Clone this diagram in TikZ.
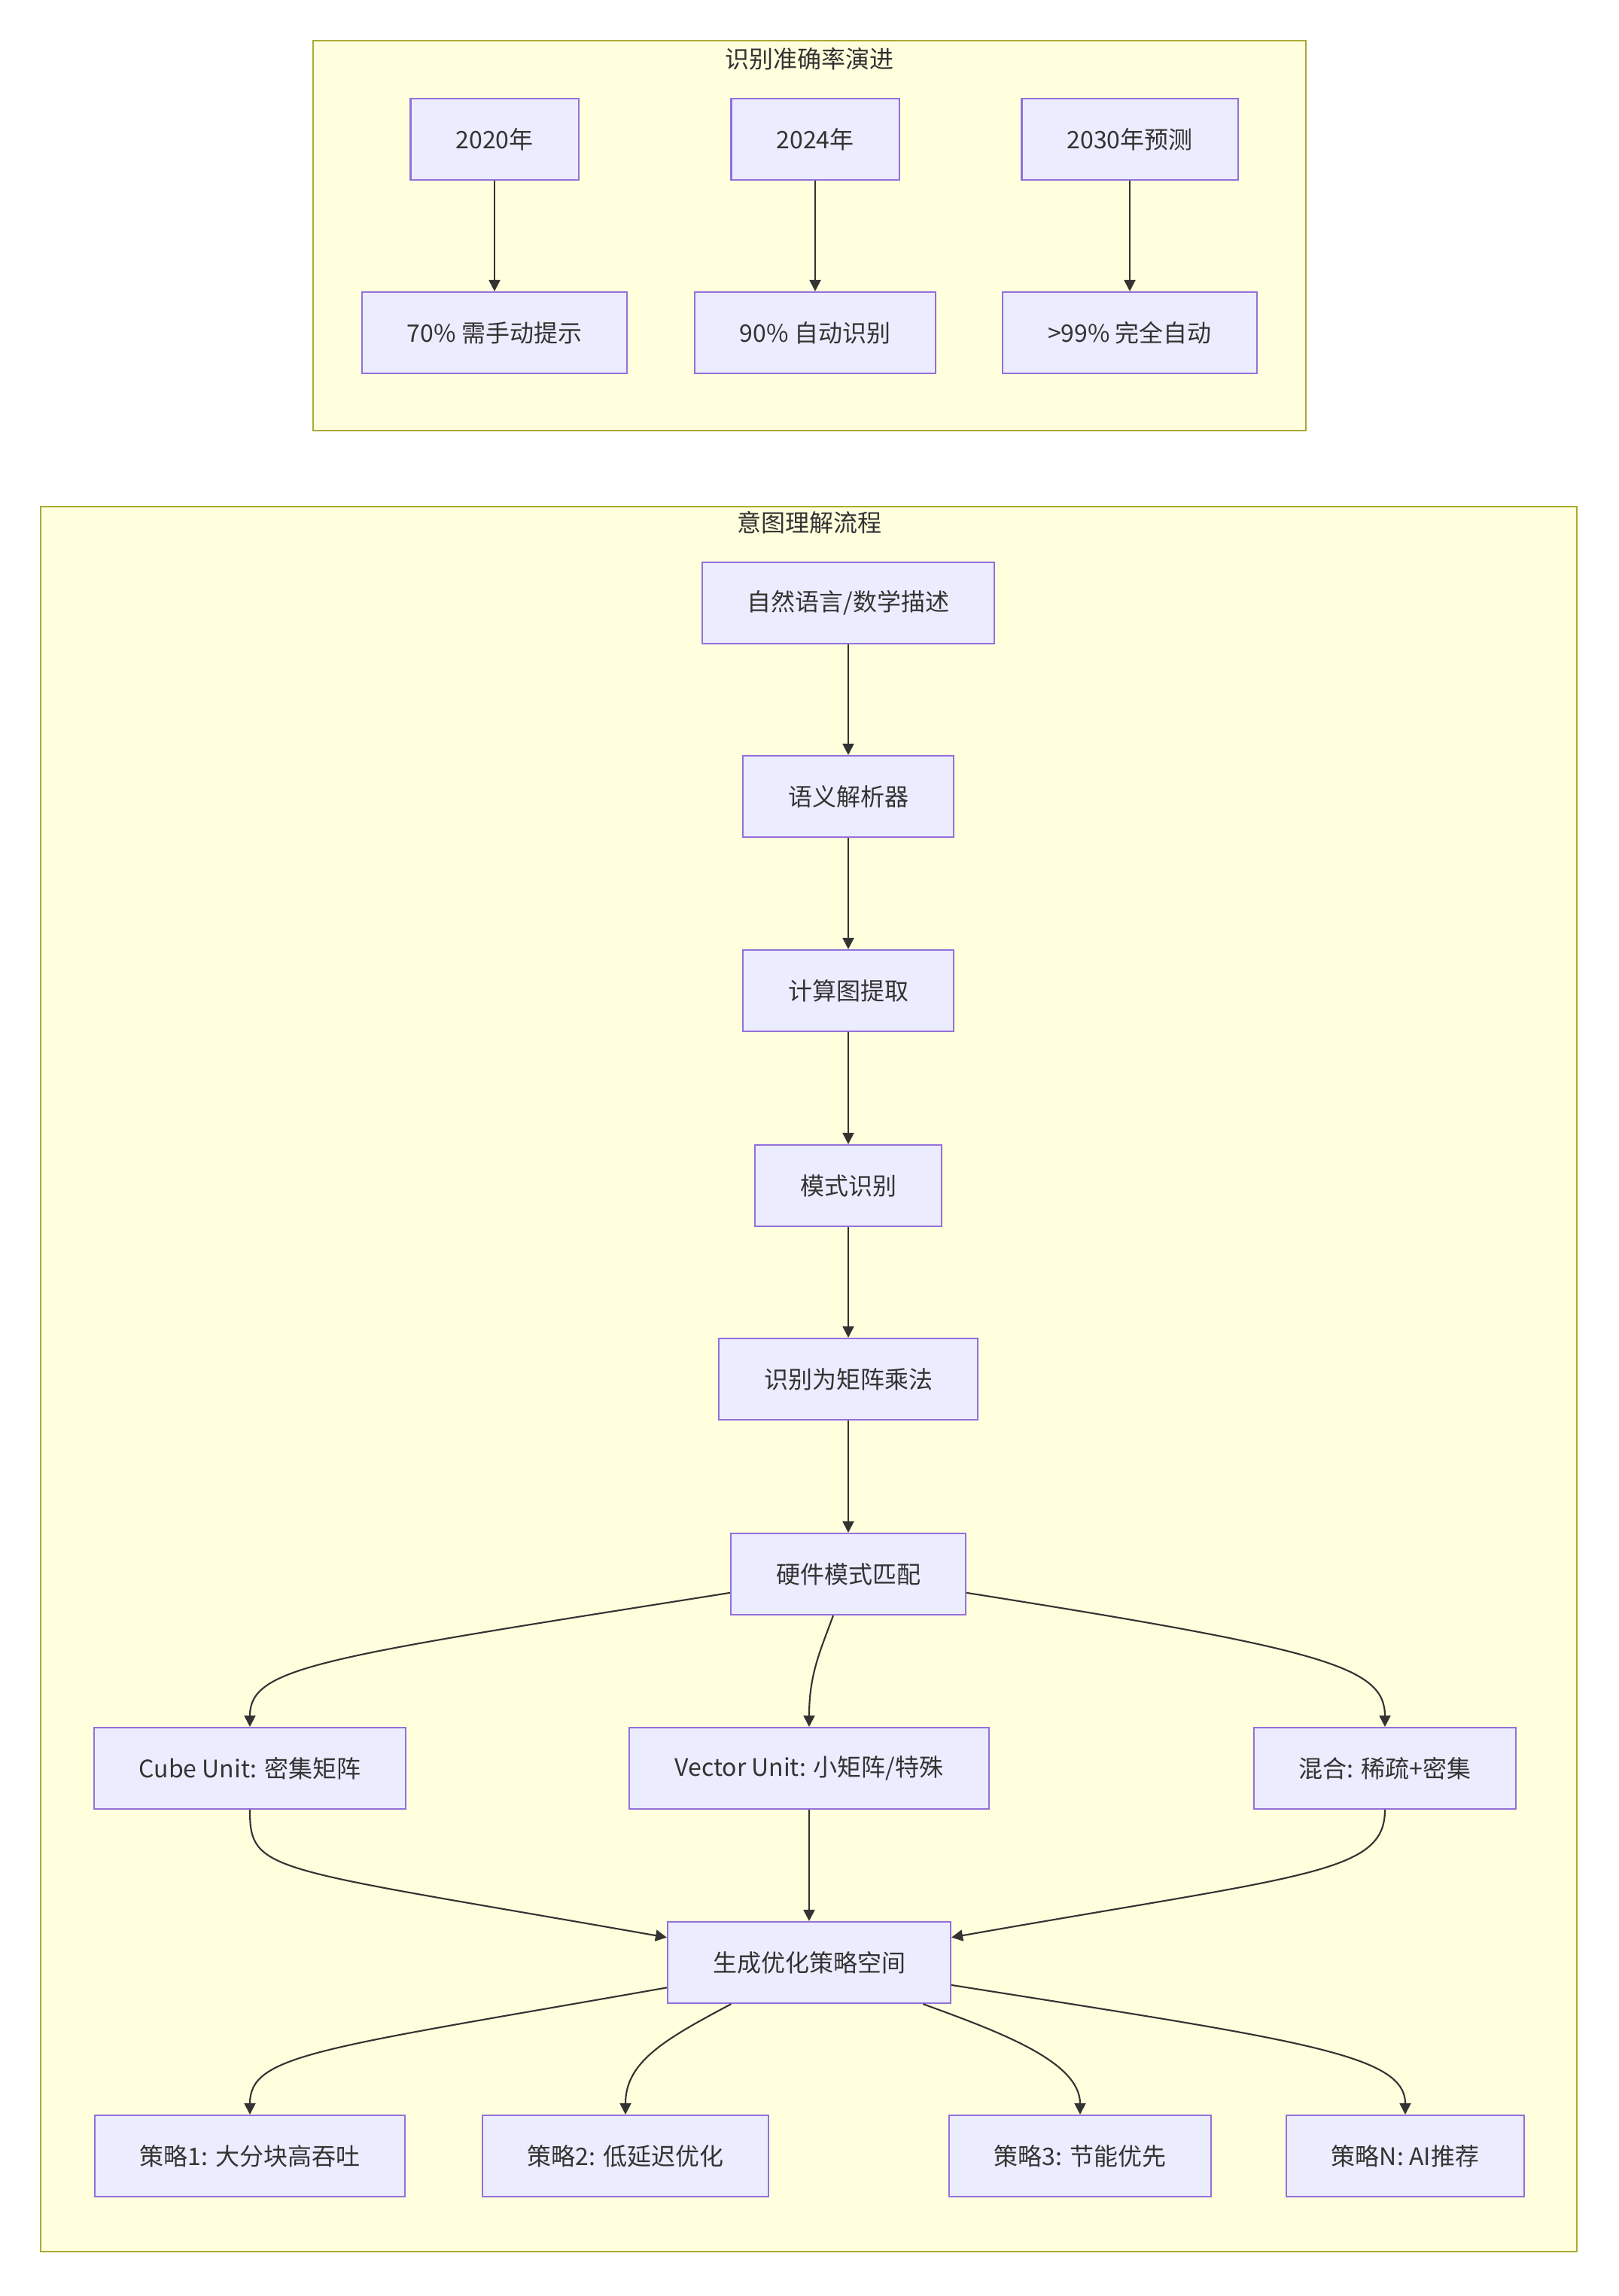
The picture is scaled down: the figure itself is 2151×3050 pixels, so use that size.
\documentclass[tikz,border=0pt]{standalone}
\usepackage{fontspec}
\setmainfont{Noto Sans CJK SC}
\usetikzlibrary{arrows.meta}

\definecolor{clfill}{HTML}{FFFFDE}
\definecolor{cldraw}{HTML}{AAAA33}
\definecolor{nfill}{HTML}{ECECFF}
\definecolor{ndraw}{HTML}{9370DB}
\definecolor{ink}{HTML}{333333}

\begin{document}
\begin{tikzpicture}[x=0.01cm,y=0.01cm,
    font=\fontsize{9.1}{11}\selectfont,text=ink,
    cluster/.style={draw=cldraw,fill=clfill,line width=0.6pt},
    box/.style={rectangle,draw=ndraw,fill=nfill,line width=0.6pt,
      minimum height=1.08cm,inner xsep=0.6cm}]

        \useasboundingbox[fill=white] (0,0) rectangle (2151,-3050);

        % groups
        \draw[cluster] (416,-54) rectangle (1735,-572);
        \draw[cluster] (54,-673) rectangle (2095,-2991);
        \node (t1) at (1075,-78)  {识别准确率演进};
        \node (t2) at (1075,-694) {意图理解流程};

        \begin{scope}[every node/.style={box}]
          \node (1)  at (657,-185)   {2020年};
          \node (2)  at (1083,-185)  {2024年};
          \node (3)  at (1501,-185)  {2030年预测};
          \node (4)  at (657,-442)   {70\% 需手动提示};
          \node (5)  at (1083,-442)  {90\% 自动识别};
          \node (6)  at (1501,-442)  {>99\% 完全自动};
          \node (7)  at (1127,-801)  {自然语言/数学描述};
          \node (8)  at (1127,-1058) {语义解析器};
          \node (9)  at (1127,-1316) {计算图提取};
          \node (10) at (1127,-1575) {模式识别};
          \node (11) at (1127,-1832) {识别为矩阵乘法};
          \node (12) at (1127,-2091) {硬件模式匹配};
          \node (13) at (332,-2349)  {Cube Unit: 密集矩阵};
          \node (14) at (1075,-2349) {Vector Unit: 小矩阵/特殊};
          \node (15) at (1840,-2349) {混合: 稀疏+密集};
          \node (16) at (1075,-2607) {生成优化策略空间};
          \node (17) at (332,-2864)  {策略1: 大分块高吞吐};
          \node (18) at (831,-2864)  {策略2: 低延迟优化};
          \node (19) at (1435,-2864) {策略3: 节能优先};
          \node (20) at (1867,-2864) {策略N: AI推荐};
        \end{scope}

        \begin{scope}[every edge/.style={draw=ink,line width=0.6pt,
            -{Triangle[length=0.15cm,width=0.15cm]}}]
          \path (1)  edge (4);
          \path (2)  edge (5);
          \path (3)  edge (6);
          \path (7)  edge (8);
          \path (8)  edge (9);
          \path (9)  edge (10);
          \path (10) edge (11);
          \path (11) edge (12);
          \path (12) edge[out=189,in=90,out distance=5.5cm,in distance=0.8cm] (13);
          \path (12) edge[out=250,in=90,out distance=0.5cm,in distance=0.7cm] (14);
          \path (12) edge[out=351,in=90,out distance=4.8cm,in distance=0.8cm] (15);
          \path (13) edge[out=270,in=170,out distance=0.85cm,in distance=5.4cm] (16);
          \path (14) edge (16);
          \path (15) edge[out=270,in=10,out distance=0.85cm,in distance=4.8cm] (16);
          \path (16) edge[out=190,in=90,out distance=4.7cm,in distance=0.8cm] (17);
          \path (16) edge[out=208,in=90,out distance=1cm,in distance=0.7cm] (18);
          \path (16) edge[out=340,in=90,out distance=1.1cm,in distance=0.7cm] (19);
          \path (16) edge[out=351,in=90,out distance=4.7cm,in distance=0.8cm] (20);
        \end{scope}

      \end{tikzpicture}
\end{document}
